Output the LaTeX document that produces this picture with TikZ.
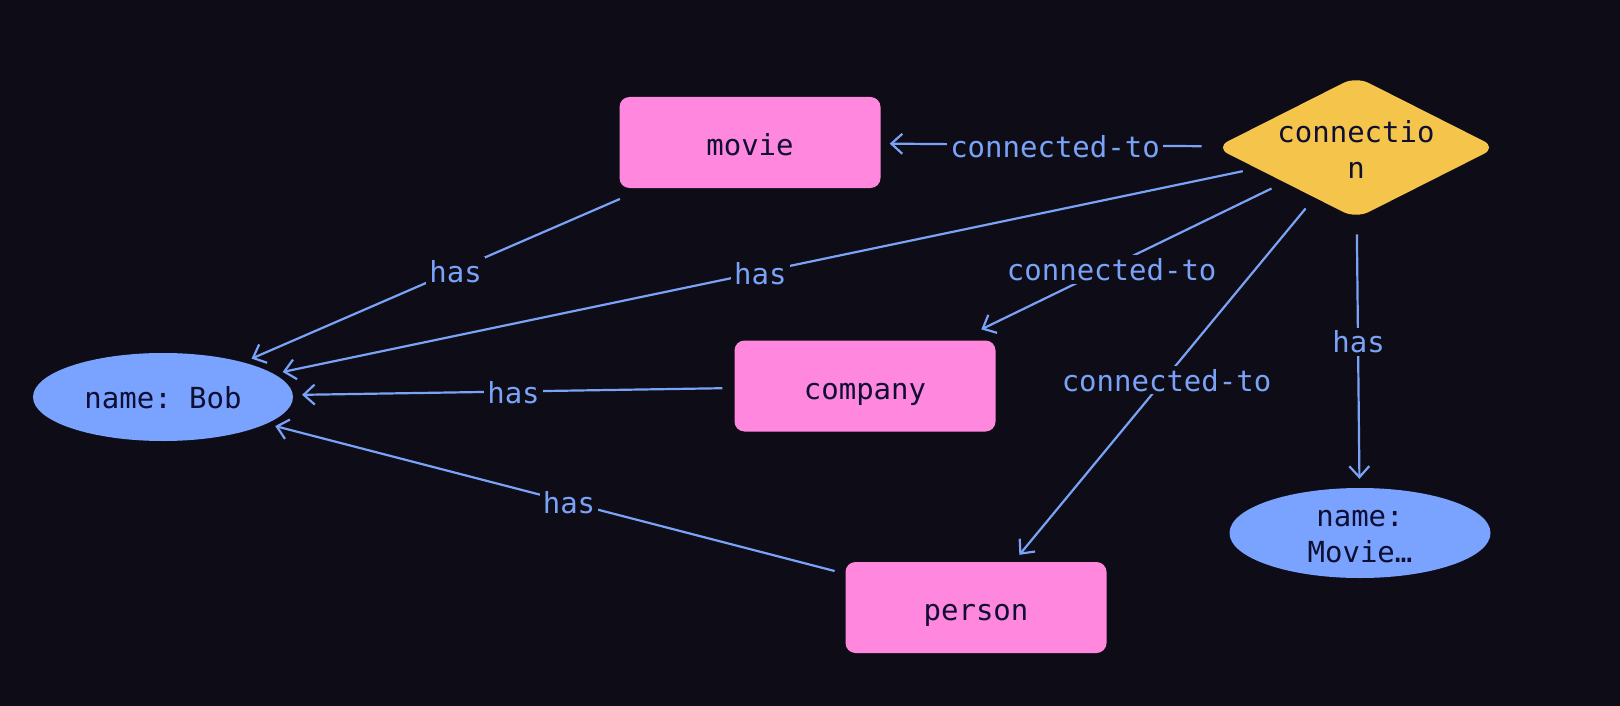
\documentclass[tikz,border=0pt]{standalone}
\usepackage{fontspec}
\setmonofont{DejaVu Sans Mono}
\usetikzlibrary{shapes.geometric,arrows.meta}
\definecolor{bg}{HTML}{0E0D17}
\definecolor{pinkbox}{HTML}{FF88DE}
\definecolor{gold}{HTML}{F5C54B}
\definecolor{ellblue}{HTML}{7AA2FF}
\definecolor{edgeblue}{HTML}{7AA2F7}
\definecolor{ink}{HTML}{0F0E33}
\begin{document}
\begin{tikzpicture}[x=1pt,y=-1pt,
  every node/.style={font=\ttfamily\fontsize{29}{36}\selectfont},
  box/.style={rectangle, rounded corners=10pt, fill=pinkbox, text=ink, minimum width=261pt, minimum height=91pt, inner sep=0pt, text height=28pt, text depth=2pt},
  ell/.style={ellipse, fill=ellblue, text=ink, minimum width=260pt, minimum height=88pt, inner sep=0pt},
  dia/.style={diamond, fill=gold, rounded corners=14pt, minimum width=281pt, minimum height=142pt, inner sep=0pt},
  inner/.style={text=ink, align=center, inner sep=0pt},
  rel/.style={draw=edgeblue, line width=2.2pt, -{Straight Barb[length=11pt,width=20pt]}, shorten <=14pt, shorten >=9pt},
  lbl/.style={fill=bg, text=edgeblue, inner sep=3pt}
]
\fill[bg] (0,0) rectangle (1620,706);
\useasboundingbox (0,0) rectangle (1620,706);

\node[ell, text height=26pt, text depth=4pt] (bob) at (163,397) {name: Bob};
\node[box] (movie) at (750,142.5) {movie};
\node[box] (company) at (865,386) {company};
\node[box] (person) at (976,607.5) {person};
\node[dia, label={[inner, yshift=-2pt]center:{connectio\\n}}] (conn) at (1356,147.5) {};
\node[ell, minimum width=261pt, minimum height=90pt, label={[inner, yshift=-4pt]center:{name:\\Movie…}}] (mname) at (1360,533) {};

\draw[rel, shorten <=16pt] (conn) -- (movie);
\draw[rel, shorten <=27pt] (movie) -- (bob);
\draw[rel] (conn) -- (bob);
\draw[rel, shorten >=25pt] (conn) -- (company);
\draw[rel, shorten <=12pt] (company) -- (bob);
\draw[rel] (conn) -- (person);
\draw[rel, shorten <=16pt] (conn) -- (mname);
\draw[rel, shorten <=11pt] (person) -- (bob);

\node[lbl] (l1) at (1055,147) {connected-to};
\node[lbl] (l2) at (455.6,271.7) {has};
\node[lbl] (l3) at (760.4,273.8) {has};
\node[lbl] (l4) at (1111.7,269.7) {connected-to};
\node[lbl] (l5) at (513.5,392.6) {has};
\node[lbl] (l6) at (1166.5,380.2) {connected-to};
\node[lbl] (l7) at (1358.6,342) {has};
\node[lbl] (l8) at (569,503) {has};
\end{tikzpicture}
\end{document}
